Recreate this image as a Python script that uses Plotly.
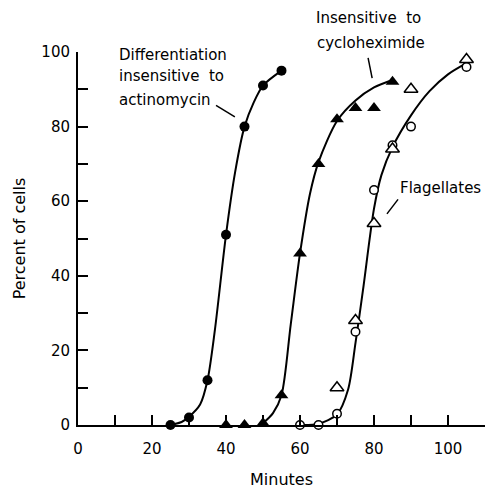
import plotly.graph_objects as go

# Measured time points (minutes) and percent of cells
actino_t = [25, 30, 35, 40, 45, 50, 55]
actino_pct = [0, 2, 12, 51, 80, 91, 95]

cyclo_t = [40, 45, 50, 55, 60, 65, 70, 75, 80, 85]
cyclo_pct = [0, 0, 0.5, 8, 46, 70, 82, 85, 85, 92]

flag_a_t = [60, 65, 70, 75, 80, 85, 90, 105]
flag_a_pct = [0, 0, 3, 25, 63, 75, 80, 96]

flag_b_t = [70, 75, 80, 85, 90, 105]
flag_b_pct = [10, 28, 54, 74, 90, 98]

# Hand-fitted smooth curves (knots)
actino_fit_t = [25, 28, 30, 33, 35, 37, 40, 42.5, 45, 47.5, 50, 55]
actino_fit_pct = [0, 0.8, 2.2, 5.5, 12, 25.5, 51, 68, 80, 86.5, 91, 95]

cyclo_fit_t = [50, 52.7, 55, 57.5, 60, 62.7, 65, 70, 75, 80, 85]
cyclo_fit_pct = [0.5, 3.2, 8, 27, 46, 62, 70.5, 81.5, 87, 90.5, 92.5]

flag_fit_t = [60, 65, 70, 73, 75, 77, 80, 82, 85, 90, 95, 100, 105]
flag_fit_pct = [0, 0.3, 2.8, 9.5, 22, 36, 58, 67, 74.5, 83, 89.5, 94, 97]

x_tick_vals = list(range(0, 111, 10))
x_tick_labels = ["0", "", "20", "", "40", "", "60", "", "80", "", "100", ""]
y_tick_vals = list(range(0, 101, 10))
y_tick_labels = ["0", "", "20", "", "40", "", "60", "", "80", "", "100"]

FONT = "DejaVu Sans"
INK = "black"
Y_MAX = 100

fig = go.Figure()

for t, p in [(actino_fit_t, actino_fit_pct),
             (cyclo_fit_t, cyclo_fit_pct),
             (flag_fit_t, flag_fit_pct)]:
    fig.add_trace(go.Scatter(
        x=t, y=p, mode="lines",
        line=dict(color=INK, width=2, shape="spline", smoothing=0.8),
        hoverinfo="skip", showlegend=False, cliponaxis=False))

fig.add_trace(go.Scatter(
    x=actino_t, y=actino_pct, mode="markers", name="Actinomycin",
    marker=dict(symbol="circle", size=10, color=INK),
    showlegend=False, cliponaxis=False))
fig.add_trace(go.Scatter(
    x=cyclo_t, y=cyclo_pct, mode="markers", name="Cycloheximide",
    marker=dict(symbol="triangle-up", size=12, color=INK),
    showlegend=False, cliponaxis=False))
fig.add_trace(go.Scatter(
    x=flag_a_t, y=flag_a_pct, mode="markers", name="Flagellates",
    marker=dict(symbol="circle", size=8.5, color="white",
                line=dict(color=INK, width=1.5)),
    showlegend=False, cliponaxis=False))
fig.add_trace(go.Scatter(
    x=flag_b_t, y=flag_b_pct, mode="markers", name="Flagellates",
    marker=dict(symbol="triangle-up", size=12, color="white",
                line=dict(color=INK, width=1.5)),
    showlegend=False, cliponaxis=False))

# Labels are placed in x data units and y as a fraction of the 0-100 range,
# so that text above the top of the axis is still drawn.
def label(text, x, y, xanchor="left"):
    fig.add_annotation(
        x=x, y=y / Y_MAX, xref="x", yref="paper", text=text, showarrow=False,
        xanchor=xanchor, yanchor="middle",
        font=dict(family=FONT, size=15, color=INK))

label("Differentiation", 10.5, 99.2)
label("insensitive\u00a0 to", 10.5, 93.6)
label("actinomycin", 10.5, 87.1)
label("Insensitive\u00a0 to", 78.4, 109.1, "center")
label("cycloheximide", 79.2, 102.4, "center")
label("Flagellates", 86.5, 63.5)

def leader(x0, y0, x1, y1):
    fig.add_shape(type="line", xref="x", yref="y",
                  x0=x0, y0=y0, x1=x1, y1=y1,
                  line=dict(color=INK, width=1.5))

leader(37.3, 85.7, 42.4, 82.6)
leader(78.4, 98.4, 79.5, 93.0)
leader(86.5, 60.5, 83.5, 56.6)

axis_common = dict(
    showline=True, linecolor=INK, linewidth=2,
    ticks="inside", ticklen=10, tickwidth=1.5, tickcolor=INK,
    showgrid=False, zeroline=False,
    tickfont=dict(family=FONT, size=15, color=INK),
    title_font=dict(family=FONT, size=16, color=INK),
    tickmode="array",
)

fig.update_xaxes(range=[0, 110], tickvals=x_tick_vals, ticktext=x_tick_labels,
                 title_text="Minutes", title_standoff=18,
                 ticklabelstandoff=9, **axis_common)
fig.update_yaxes(range=[0, Y_MAX], tickvals=y_tick_vals, ticktext=y_tick_labels,
                 title_text="Percent of cells", title_standoff=12,
                 ticklabelstandoff=3, **axis_common)

fig.update_layout(
    width=487, height=489,
    margin=dict(l=78, r=2, t=52, b=64),
    paper_bgcolor="white", plot_bgcolor="white",
    font=dict(family=FONT, color=INK),
)

fig.write_html("out.html")
